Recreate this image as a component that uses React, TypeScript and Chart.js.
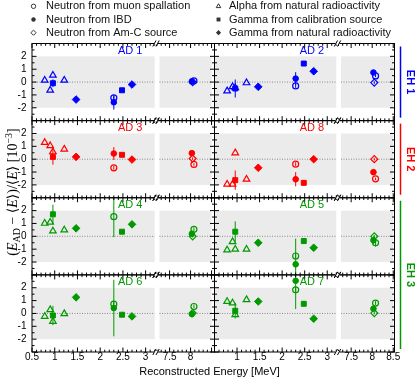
import { useEffect, useRef } from "react";
import { Chart, registerables } from "chart.js";

Chart.register(...registerables);

// ---------------- data ----------------
const adNames = ["AD 1", "AD 2", "AD 3", "AD 8", "AD 4", "AD 5", "AD 6", "AD 7"];
const adHall = [0, 0, 1, 1, 2, 2, 2, 2];
const hallNames = ["EH 1", "EH 2", "EH 3"];

const xLabelsCol0 = [0.5, 1, 1.5, 2, 2.5, 3, 7.5, 8];
const xLabelsCol1 = [1, 1.5, 2, 2.5, 3, 7.5, 8, 8.5];
const yTickLabels = [-2, -1, 0, 1, 2];

// Neutron from muon spallation (open circle)
const spallE = [2.3, 8.08];
const spallBias = [
  [-1.23, 0.1], [-0.3, 0.48], [-0.67, -0.41], [-0.39, -1.53],
  [1.53, 0.54], [-1.53, -0.5], [0.73, 0.54], [1.84, 0.81],
];
const spallErr = [
  [0.15, 0.1], [0.15, 0.1], [0.15, 0.1], [0.15, 0.1],
  [1.6, 0.15], [0.2, 0.3], [0.2, 0.15], [0.2, 0.15],
];
// Neutron from IBD (filled circle)
const ibdE = [2.3, 8.03];
const ibdBias = [
  [-1.57, 0.05], [0.27, 0.74], [0.44, 0.47], [-1.56, -1.01],
  [null, 0.2], [-2.18, -0.3], [0.42, -0.05], [2.54, 0.37],
];
const ibdErr = [
  [0.57, 0.1], [0.5, 0.1], [0.5, 0.1], [0.55, 0.1],
  [0, 0.25], [2.0, 0.3], [2.2, 0.25], [2.2, 0.1],
];
// Neutron from Am-C source (open diamond)
const amcE = [8.05];
const amcBias = [[0.0], [-0.04], [0.05], [0.0], [0.0], [0.0], [0.03], [0.03]];
const amcErr = [[0.1], [0.1], [0.1], [0.1], [0.1], [0.1], [0.1], [0.1]];
// Alpha from natural radioactivity (open triangle)
const alphaE = [0.78, 0.9, 0.96, 1.21];
const alphaBias = [
  [0.14, -0.64, 0.53, 0.14], [-0.69, -0.37, -0.45, -0.06],
  [1.3, 1.04, 0.57, 0.78], [-1.95, -1.95, 0.49, -1.56],
  [1.01, 1.09, 0.41, 0.49], [-1.07, -0.42, -1.01, -1.01],
  [-0.23, 0.29, -0.62, -0.02], [0.93, 0.81, -0.1, 1.07],
];
// Gamma from calibration source (filled square)
const calibE = [0.96, 2.48];
const calibBias = [
  [-0.09, -0.64], [-0.5, 1.44], [0.18, 0.34], [-1.63, -1.84],
  [1.71, 0.36], [0.36, -0.37], [-0.16, -0.1], [0.21, 0.75],
];
const calibErr = [
  [0.3, 0.1], [0.7, 0.1], [0.6, 0.1], [0.75, 0.1],
  [0.75, 0.1], [0.8, 0.1], [0.75, 0.1], [0.6, 0.1],
];
// Gamma from natural radioactivity (filled diamond)
const natE = [1.47, 2.7];
const natBias = [
  [-1.36, -0.19], [-0.37, 0.84], [0.18, -0.03], [-0.67, 0.0],
  [0.62, 0.93], [-0.5, -0.89], [1.25, -0.23], [0.93, -0.41],
];

// ---------------- styles ----------------
const hallColors = ["#0000ff", "#ff0000", "#009900"];
const FONT = "'Liberation Sans', Arial, sans-serif";
const SERIF = "'Liberation Serif', 'DejaVu Serif', serif";
const bandLeft = [0.5, 3.2];
const bandRight = [7.26, 8.5];

type Series = {
  label: string; E: number[]; bias: (number | null)[][]; err: number[][] | null;
  style: string; filled: boolean; radius: number;
};
const series: Series[] = [
  { label: "Neutron from muon spallation", E: spallE, bias: spallBias, err: spallErr, style: "circle", filled: false, radius: 3 },
  { label: "Neutron from IBD", E: ibdE, bias: ibdBias, err: ibdErr, style: "circle", filled: true, radius: 2.8 },
  { label: "Neutron from Am-C source", E: amcE, bias: amcBias, err: amcErr, style: "rectRot", filled: false, radius: 3.5 },
  { label: "Alpha from natural radioactivity", E: alphaE, bias: alphaBias, err: null, style: "triangle", filled: false, radius: 3.8 },
  { label: "Gamma from calibration source", E: calibE, bias: calibBias, err: calibErr, style: "rect", filled: true, radius: 3.5 },
  { label: "Gamma from natural radioactivity", E: natE, bias: natBias, err: null, style: "rectRot", filled: true, radius: 3.8 },
];
// draw order: later in list => drawn first (below)
const drawOrder = [3, 4, 5, 2, 1, 0];

function buildDatasets() {
  const out: any[] = [];
  for (let p = 0; p < 8; p++) {
    const row = Math.floor(p / 2);
    const col = p % 2;
    const color = hallColors[adHall[p]];
    drawOrder.forEach((si, oi) => {
      const s = series[si];
      const low: any[] = [];
      const high: any[] = [];
      s.E.forEach((e, i) => {
        const v = s.bias[p][i];
        if (v === null || v === undefined) return;
        const pt = { x: e, y: v, err: s.err ? s.err[p][i] : 0 };
        (e < 5 ? low : high).push(pt);
      });
      [[low, "L"], [high, "R"]].forEach(([pts, side]: any) => {
        if (!pts.length) return;
        out.push({
          label: s.label,
          data: pts,
          xAxisID: "x" + col + side,
          yAxisID: "y" + row,
          order: oi,
          showLine: false,
          pointStyle: s.style,
          pointRadius: s.radius,
          pointHoverRadius: s.radius,
          pointBorderWidth: s.filled ? 1 : 1.2,
          borderColor: color,
          backgroundColor: s.filled ? color : "rgba(0,0,0,0)",
          errColor: color,
        });
      });
    });
  }
  return out;
}

function yScale() {
  return {
    type: "linear", position: "left", stack: "rows", stackWeight: 1,
    min: -3, max: 3,
    grid: { display: false, drawTicks: false }, border: { display: false },
    ticks: {
      stepSize: 1, autoSkip: false, padding: 5.5, color: "#000",
      font: { size: 10, family: FONT },
      callback: (v: number) => (yTickLabels.includes(v) ? String(v) : ""),
    },
    afterFit: (s: any) => { s.width = 32; },
  };
}
function xScale(min: number, max: number, weight: number, show: number[]) {
  return {
    type: "linear", position: "bottom", stack: "cols", stackWeight: weight,
    min, max,
    grid: { display: false, drawTicks: false }, border: { display: false },
    ticks: {
      stepSize: 0.5, includeBounds: false, autoSkip: false, maxRotation: 0, minRotation: 0,
      padding: 0, color: "#000", font: { size: 10, family: FONT, lineHeight: 1 },
      callback: (v: number) => (show.includes(v) ? String(v) : ""),
    },
    afterFit: (s: any) => { s.height = 26; },
  };
}

function drawMarker(ctx: CanvasRenderingContext2D, kind: string, x: number, y: number, r: number, color: string, filled: boolean) {
  ctx.save();
  ctx.strokeStyle = color;
  ctx.fillStyle = color;
  ctx.lineWidth = 1;
  ctx.beginPath();
  if (kind === "circle") ctx.arc(x, y, r, 0, Math.PI * 2);
  else if (kind === "triangle") {
    ctx.moveTo(x, y - r);
    ctx.lineTo(x + r * 0.866, y + r * 0.5);
    ctx.lineTo(x - r * 0.866, y + r * 0.5);
    ctx.closePath();
  } else if (kind === "rect") {
    const s = r * 0.75;
    ctx.rect(x - s, y - s, 2 * s, 2 * s);
  } else {
    ctx.moveTo(x, y - r);
    ctx.lineTo(x + r, y);
    ctx.lineTo(x, y + r);
    ctx.lineTo(x - r, y);
    ctx.closePath();
  }
  if (filled) ctx.fill(); else ctx.stroke();
  ctx.restore();
}

const panelPlugin = {
  id: "panels",
  beforeDatasetsDraw(chart: any) {
    const ctx: CanvasRenderingContext2D = chart.ctx;
    ctx.save();
    for (let r = 0; r < 4; r++) {
      const ys = chart.scales["y" + r];
      for (let c = 0; c < 2; c++) {
        ["L", "R"].forEach((side) => {
          const xs = chart.scales["x" + c + side];
          const b = side === "L" ? bandLeft : bandRight;
          const x0 = xs.getPixelForValue(b[0]);
          const x1 = Math.min(xs.getPixelForValue(b[1]), xs.right - 1);
          const yt = ys.getPixelForValue(2);
          const yb = ys.getPixelForValue(-2);
          ctx.fillStyle = "#ebebeb";
          ctx.fillRect(x0, yt, x1 - x0, yb - yt);
          const y0 = ys.getPixelForValue(0);
          ctx.strokeStyle = "#8a8a8a";
          ctx.lineWidth = 1;
          ctx.setLineDash([1, 1.5]);
          ctx.beginPath();
          ctx.moveTo(x0, y0);
          ctx.lineTo(x1, y0);
          ctx.stroke();
          ctx.setLineDash([]);
        });
      }
    }
    // error bars
    chart.data.datasets.forEach((ds: any) => {
      const xs = chart.scales[ds.xAxisID];
      const ys = chart.scales[ds.yAxisID];
      ctx.save();
      ctx.beginPath();
      ctx.rect(xs.left, ys.top, xs.right - xs.left, ys.bottom - ys.top);
      ctx.clip();
      ctx.strokeStyle = ds.errColor;
      ctx.lineWidth = 1;
      ds.data.forEach((p: any) => {
        if (!p.err) return;
        const x = xs.getPixelForValue(p.x);
        ctx.beginPath();
        ctx.moveTo(x, ys.getPixelForValue(p.y - p.err));
        ctx.lineTo(x, ys.getPixelForValue(p.y + p.err));
        ctx.stroke();
      });
      ctx.restore();
    });
    ctx.restore();
  },
  afterDraw(chart: any) {
    const ctx: CanvasRenderingContext2D = chart.ctx;
    ctx.save();
    for (let r = 0; r < 4; r++) {
      const ys = chart.scales["y" + r];
      for (let c = 0; c < 2; c++) {
        const xl = chart.scales["x" + c + "L"];
        const xr = chart.scales["x" + c + "R"];
        const L = xl.left, R = xr.right, T = ys.top, B = ys.bottom;
        ctx.strokeStyle = "#000";
        ctx.lineWidth = 1;
        ctx.strokeRect(L, T, R - L, B - T);
        // x ticks top & bottom
        ctx.beginPath();
        [xl, xr].forEach((xs: any) => {
          for (let k = Math.ceil(xs.min * 10 - 1e-6); k <= Math.floor(xs.max * 10 + 1e-6); k++) {
            const px = xs.getPixelForValue(k / 10);
            const len = k % 5 === 0 ? 4.5 : 2.3;
            ctx.moveTo(px, B); ctx.lineTo(px, B - len);
            ctx.moveTo(px, T); ctx.lineTo(px, T + len);
          }
        });
        // y ticks left & right
        for (let k = -6; k <= 6; k++) {
          const py = ys.getPixelForValue(k / 2);
          const len = k % 2 === 0 ? 4.5 : 2.5;
          ctx.moveTo(L, py); ctx.lineTo(L + len, py);
          ctx.moveTo(R, py); ctx.lineTo(R - len, py);
        }
        ctx.stroke();
        // break marks
        const bx = xl.right - 1;
        [T, B].forEach((yy) => {
          ctx.fillStyle = "#fff";
          ctx.fillRect(bx - 2, yy - 1, 4, 2);
          ctx.beginPath();
          for (const d of [-1.6, 1.6]) {
            ctx.moveTo(bx + d - 1.6, yy + 3);
            ctx.lineTo(bx + d + 1.6, yy - 3);
          }
          ctx.stroke();
        });
        // AD label
        const p = r * 2 + c;
        ctx.fillStyle = hallColors[adHall[p]];
        ctx.font = `11px ${FONT}`;
        ctx.textAlign = "center";
        ctx.textBaseline = "middle";
        ctx.fillText(adNames[p], xl.getPixelForValue(2.66), ys.getPixelForValue(2.45));
      }
    }
    // hall markers
    const hallRows = [[0, 0], [1, 1], [2, 3]];
    hallRows.forEach(([r0, r1], h) => {
      const t = chart.scales["y" + r0].top + 3;
      const b = chart.scales["y" + r1].bottom - 3;
      ctx.strokeStyle = hallColors[h];
      ctx.lineWidth = 1.5;
      ctx.beginPath();
      ctx.moveTo(400.5, t);
      ctx.lineTo(400.5, b);
      ctx.stroke();
      ctx.save();
      ctx.translate(410, (t + b) / 2);
      ctx.rotate(Math.PI / 2);
      ctx.fillStyle = hallColors[h];
      ctx.font = `bold 11px ${FONT}`;
      ctx.textAlign = "center";
      ctx.textBaseline = "middle";
      ctx.fillText(hallNames[h], 0, 0);
      ctx.restore();
    });
    // legend
    const legPos = [[33.5, 46, 6.3], [33.5, 46, 19.5], [33.5, 46, 32.7], [218.5, 229, 6.3], [218.5, 229, 19.5], [218.5, 229, 32.7]];
    series.forEach((s, i) => {
      const [mx, tx, ty] = legPos[i];
      drawMarker(ctx, s.style, mx, ty, s.style === "circle" ? 2.2 : 2.6, "#333", s.filled);
      ctx.fillStyle = "#111";
      ctx.font = `11px ${FONT}`;
      ctx.textAlign = "left";
      ctx.textBaseline = "middle";
      ctx.fillText(s.label, tx, ty);
    });
    // x title
    ctx.fillStyle = "#000";
    ctx.font = `11px ${FONT}`;
    ctx.textAlign = "center";
    ctx.textBaseline = "middle";
    ctx.fillText("Reconstructed Energy [MeV]", 209.5, 371.5);
    // y title
    const pieces: [string, string, number][] = [
      ["(", `14px ${SERIF}`, 0],
      ["E", `italic 14px ${SERIF}`, 0],
      ["AD", `10px ${SERIF}`, 3],
      [" \u2212 ", `14px ${SERIF}`, 0],
      ["\u27E8", `14px ${SERIF}`, 0],
      ["E", `italic 14px ${SERIF}`, 0],
      ["\u27E9", `14px ${SERIF}`, 0],
      [")/", `14px ${SERIF}`, 0],
      ["\u27E8", `14px ${SERIF}`, 0],
      ["E", `italic 14px ${SERIF}`, 0],
      ["\u27E9", `14px ${SERIF}`, 0],
      [" [10", `14px ${SERIF}`, 0],
      ["\u22123", `10px ${SERIF}`, -5],
      ["]", `14px ${SERIF}`, 0],
    ];
    let total = 0;
    const widths = pieces.map(([t, f]) => { ctx.font = f; const w = ctx.measureText(t).width; total += w; return w; });
    ctx.save();
    ctx.translate(12, 192);
    ctx.rotate(-Math.PI / 2);
    ctx.textAlign = "left";
    ctx.textBaseline = "alphabetic";
    let x = -total / 2;
    pieces.forEach(([t, f, dy], i) => {
      ctx.font = f;
      ctx.fillText(t, x, 4.5 + dy);
      x += widths[i];
    });
    ctx.restore();
    ctx.restore();
  },
};

export default function App() {
  const ref = useRef<HTMLCanvasElement>(null);
  useEffect(() => {
    const scales: any = {};
    for (let r = 3; r >= 0; r--) scales["y" + r] = yScale();
    scales["x0L"] = xScale(0.5, 3.25, 125, xLabelsCol0);
    scales["x0R"] = xScale(7.2, 8.57, 57.5, xLabelsCol0);
    scales["x1L"] = xScale(0.5, 3.25, 124, xLabelsCol1);
    scales["x1R"] = xScale(7.2, 8.53, 56, xLabelsCol1);
    const chart = new Chart(ref.current!, {
      type: "scatter",
      data: { datasets: buildDatasets() },
      options: {
        animation: false,
        responsive: false,
        devicePixelRatio: 1,
        layout: { padding: { left: 0, top: 43.5, right: 21.5, bottom: 0 } },
        plugins: { legend: { display: false }, tooltip: { enabled: false } },
        events: [],
        scales,
      } as any,
      plugins: [panelPlugin],
    });
    return () => chart.destroy();
  }, []);
  return (
    <div style={{ position: "absolute", left: 0, top: 0, width: 416, height: 378, background: "#fff" }}>
      <canvas ref={ref} width={416} height={378} style={{ display: "block", width: 416, height: 378 }} />
    </div>
  );
}
